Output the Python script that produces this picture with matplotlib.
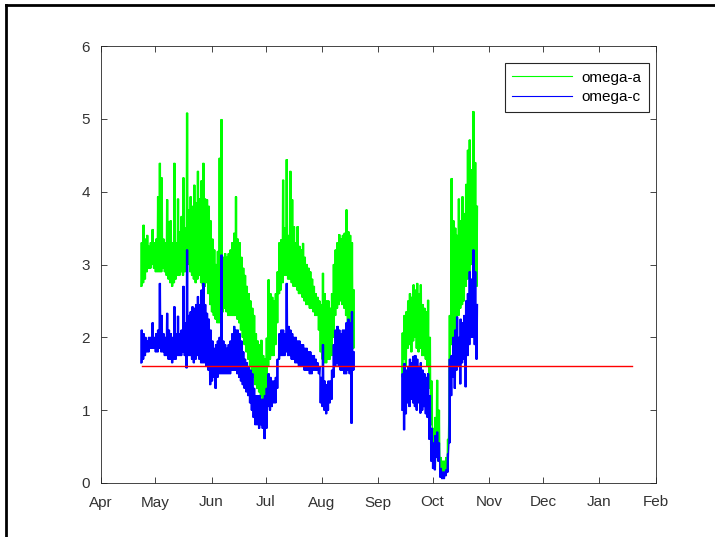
import numpy as np
import matplotlib
matplotlib.use("Agg")
import matplotlib.pyplot as plt
import matplotlib.dates as mdates
from matplotlib.lines import Line2D

# ---------------- data ----------------
# segment 1: daily values starting 2015-04-23
seg1_start = "2015-04-23"
green1_hi = [3.3, 3.54, 3.35, 3.4, 3.25, 3.3, 3.48, 3.3, 3.35, 3.93, 4.39, 4.19, 3.35, 3.3, 3.89, 3.59,
             3.6, 3.3, 4.39, 3.3, 3.9, 3.45, 3.66, 4.19, 3.5, 5.08, 3.75, 3.93, 3.8, 4.09, 3.85, 4.28,
             3.9, 4.15, 4.39, 3.9, 3.89, 3.8, 3.6, 3.35, 3.2, 3.0, 3.18, 4.46, 4.99, 3.1, 3.15, 3.1,
             3.15, 3.2, 3.3, 3.43, 3.93, 3.35, 3.3, 3.1, 2.95, 2.85, 2.7, 2.6, 2.5, 2.4, 2.3, 2.05,
             1.95, 1.9, 1.96, 1.75, 1.7, 1.99, 2.79, 2.6, 2.55, 2.5, 2.6, 2.9, 3.3, 3.34, 4.16, 3.5,
             4.44, 3.4, 4.28, 3.89, 3.52, 3.3, 3.52, 3.25, 3.2, 3.29, 3.1, 3.0, 2.95, 2.9, 2.8, 2.7,
             2.6, 2.55, 2.5, 2.45, 2.88, 2.6, 2.5, 2.5, 2.4, 2.6, 3.0, 3.2, 3.3, 3.41, 3.35, 3.4,
             3.43, 3.75, 3.45, 3.4, 3.3, 2.65]
green1_lo = [2.7, 2.75, 2.8, 2.9, 2.95, 2.95, 3.0, 2.95, 2.9, 2.9, 2.9, 2.9, 2.95, 2.9, 2.85, 2.8,
             2.75, 2.7, 2.75, 2.8, 2.85, 2.85, 2.9, 2.85, 2.9, 2.95, 3.0, 2.9, 2.85, 2.8, 2.75, 2.8,
             2.85, 2.75, 2.7, 2.7, 2.75, 2.6, 2.45, 2.35, 2.3, 2.25, 2.2, 2.2, 2.25, 2.35, 2.4, 2.35,
             2.3, 2.3, 2.3, 2.3, 2.3, 2.25, 2.2, 2.1, 2.0, 1.9, 1.8, 1.7, 1.6, 1.55, 1.45, 1.35,
             1.3, 1.25, 1.2, 1.1, 1.05, 1.1, 1.6, 1.7, 1.75, 1.75, 1.9, 2.2, 2.6, 2.65, 2.75, 2.85,
             2.85, 2.8, 2.8, 2.75, 2.7, 2.7, 2.65, 2.6, 2.6, 2.55, 2.5, 2.45, 2.45, 2.4, 2.4, 2.35,
             2.3, 2.3, 2.1, 1.8, 1.7, 1.65, 1.65, 1.7, 1.7, 1.75, 2.0, 2.3, 2.4, 2.45, 2.5, 2.45,
             2.4, 2.3, 2.2, 2.1, 1.9, 1.85]
blue1_hi = [2.1, 2.05, 2.0, 1.95, 2.0, 2.0, 2.2, 2.0, 2.05, 2.1, 2.74, 2.3, 2.05, 2.0, 2.33, 2.1,
            2.05, 2.0, 2.42, 2.05, 2.29, 2.05, 2.1, 2.7, 2.2, 3.2, 2.3, 2.35, 2.42, 2.4, 2.45, 2.56,
            2.45, 2.65, 2.74, 2.45, 2.33, 2.25, 2.1, 1.95, 1.85, 1.9, 1.95, 2.0, 3.13, 1.95, 1.9, 1.85,
            1.9, 1.95, 2.05, 2.15, 2.1, 2.1, 2.05, 1.95, 1.8, 1.7, 1.65, 1.6, 1.55, 1.5, 1.3, 1.2,
            1.2, 1.2, 1.15, 1.15, 1.2, 1.3, 1.5, 1.45, 1.4, 1.4, 1.45, 1.7, 2.05, 2.1, 2.1, 2.05,
            2.74, 2.15, 2.1, 2.05, 2.0, 2.0, 1.95, 1.95, 1.9, 1.9, 1.85, 1.85, 1.8, 1.8, 1.75, 1.75,
            1.7, 1.65, 1.6, 1.45, 1.9, 1.4, 1.35, 1.4, 1.4, 1.55, 1.9, 2.1, 2.15, 2.1, 2.05, 2.1,
            2.1, 2.2, 2.25, 2.2, 2.35, 1.8]
blue1_lo = [1.65, 1.7, 1.75, 1.8, 1.8, 1.85, 1.85, 1.85, 1.8, 1.8, 1.85, 1.8, 1.8, 1.75, 1.75, 1.7,
            1.7, 1.65, 1.7, 1.7, 1.75, 1.75, 1.75, 1.8, 1.75, 1.58, 1.75, 1.75, 1.7, 1.65, 1.7, 1.75,
            1.7, 1.65, 1.65, 1.65, 1.6, 1.55, 1.35, 1.4, 1.45, 1.3, 1.45, 1.5, 1.5, 1.5, 1.5, 1.5,
            1.5, 1.5, 1.55, 1.55, 1.55, 1.5, 1.45, 1.4, 1.35, 1.3, 1.25, 1.2, 1.1, 1.0, 0.9, 0.8,
            0.8, 0.75, 0.8, 0.75, 0.61, 0.75, 1.05, 1.0, 1.05, 1.1, 1.1, 1.3, 1.7, 1.75, 1.75, 1.75,
            1.8, 1.75, 1.75, 1.7, 1.7, 1.65, 1.65, 1.6, 1.6, 1.6, 1.55, 1.55, 1.55, 1.5, 1.5, 1.55,
            1.55, 1.55, 1.5, 1.1, 1.05, 1.0, 0.95, 1.0, 1.1, 1.15, 1.45, 1.6, 1.65, 1.6, 1.55, 1.55,
            1.5, 1.5, 1.55, 1.5, 0.82, 1.55]

# segment 2: daily values starting 2015-09-14
seg2_start = "2015-09-14"
green2_hi = [2.06, 2.3, 2.35, 2.5, 2.6, 2.55, 2.72, 2.65, 2.74, 2.6, 2.72, 2.45, 2.4, 2.35, 2.51, 2.0,
             1.4, 0.75, 0.9, 1.41, 1.0, 0.35, 0.3, 0.3, 0.35, 0.6, 2.3, 4.18, 3.6, 3.5, 3.4, 3.9,
             3.6, 3.93, 3.7, 4.1, 4.57, 4.71, 4.3, 5.1, 4.4, 3.8]
green2_lo = [1.46, 1.7, 1.6, 1.85, 1.9, 1.8, 1.95, 2.0, 1.85, 1.8, 1.85, 1.75, 1.75, 1.7, 1.6, 1.3,
             0.8, 0.3, 0.22, 0.5, 0.3, 0.18, 0.15, 0.15, 0.18, 0.25, 1.0, 1.9, 2.0, 2.1, 2.2, 2.3,
             2.4, 2.45, 2.5, 2.7, 2.8, 2.9, 3.0, 3.1, 3.0, 2.7]
blue2_hi = [1.5, 1.64, 1.55, 1.6, 1.7, 1.65, 1.74, 1.75, 1.7, 1.6, 1.65, 1.55, 1.5, 1.45, 1.5, 1.2,
            0.75, 0.55, 0.65, 0.7, 0.55, 0.2, 0.15, 0.15, 0.18, 0.4, 1.7, 1.75, 2.0, 2.1, 2.28, 2.0,
            2.25, 2.2, 2.3, 2.5, 2.6, 2.9, 2.8, 3.2, 2.9, 2.45]
blue2_lo = [1.0, 0.73, 0.95, 1.1, 1.05, 1.15, 1.1, 1.05, 1.0, 1.1, 0.96, 1.0, 1.05, 0.95, 0.9, 0.6,
            0.3, 0.2, 0.18, 0.35, 0.3, 0.08, 0.06, 0.06, 0.1, 0.15, 0.55, 1.2, 1.45, 1.3, 1.55, 1.6,
            1.36, 1.65, 1.7, 1.32, 1.75, 1.9, 2.0, 2.0, 1.9, 1.7]

threshold = 1.6
threshold_start = "2015-04-23 10:00"
threshold_end = "2016-01-19"

month_ticks = ["2015-04-01", "2015-05-01", "2015-06-01", "2015-07-01", "2015-08-01", "2015-09-01",
               "2015-10-01", "2015-11-01", "2015-12-01", "2016-01-01", "2016-02-01"]
month_labels = ["Apr", "May", "Jun", "Jul", "Aug", "Sep", "Oct", "Nov", "Dec", "Jan", "Feb"]
y_ticks = [0, 1, 2, 3, 4, 5, 6]

# ---------------- helpers ----------------
def trace(start, lo, hi):
    """Each day's reading swings between its low and high value (twice per day)."""
    d0 = np.datetime64(start)
    days = d0 + np.arange(len(lo)).astype("timedelta64[D]")
    t = mdates.date2num(days)
    x = np.column_stack([t, t + 0.25, t + 0.5, t + 0.75]).ravel()
    y = np.column_stack([lo, hi, lo, hi]).ravel()
    return x, y

def joined(*parts):
    xs, ys = [], []
    for i, (x, y) in enumerate(parts):
        if i:
            xs.append([np.nan]); ys.append([np.nan])
        xs.append(x); ys.append(y)
    return np.concatenate(xs), np.concatenate(ys)

gx, gy = joined(trace(seg1_start, green1_lo, green1_hi), trace(seg2_start, green2_lo, green2_hi))
bx, by = joined(trace(seg1_start, blue1_lo, blue1_hi), trace(seg2_start, blue2_lo, blue2_hi))

# ---------------- figure ----------------
plt.rcParams['font.family'] = ['Liberation Sans', 'DejaVu Sans']
fig = plt.figure(figsize=(7.15, 5.37), dpi=100)
ax = fig.add_axes([101 / 715, 1 - 483 / 537, (655.5 - 101) / 715, (483 - 46) / 537])

ax.plot(gx, gy, color=(0, 1, 0), lw=1.0, label="omega-a")
ax.plot(bx, by, color=(0, 0, 1), lw=1.0, label="omega-c")
ax.plot(mdates.date2num(np.array([threshold_start, threshold_end], dtype="datetime64[m]")),
        [threshold, threshold], color=(1, 0, 0), lw=1.0)

tick_nums = mdates.date2num(np.array(month_ticks, dtype="datetime64[D]"))
ax.set_xlim(tick_nums[0], tick_nums[-1])
ax.set_ylim(0, 6)
ax.set_xticks(tick_nums)
ax.set_xticklabels(month_labels)
ax.set_yticks(y_ticks)

grey = "#262626"
for s in ax.spines.values():
    s.set_color(grey)
    s.set_linewidth(0.6)
ax.tick_params(direction="in", length=4, width=0.6, color=grey, labelcolor="#333333",
               labelsize=11, top=True, right=True)
ax.tick_params(axis="x", pad=9)
ax.tick_params(axis="y", pad=8)

leg = ax.legend(loc="upper right", bbox_to_anchor=(0.9935, 0.968), fancybox=False,
                framealpha=1, edgecolor=grey, fontsize=11, handlelength=3.9,
                borderpad=0.5, labelspacing=0.35, handletextpad=0.6, borderaxespad=0.2)
leg.get_frame().set_linewidth(0.8)
for h in leg.get_lines():
    h.set_linewidth(0.8)

# figure border (top and left)
fig.add_artist(Line2D([6 / 715, 1], [1 - 5 / 537, 1 - 5 / 537], transform=fig.transFigure,
                      color="black", lw=2))
fig.add_artist(Line2D([6 / 715, 6 / 715], [0, 1 - 5 / 537], transform=fig.transFigure,
                      color="black", lw=2))

fig.savefig("out.png", dpi=100)
